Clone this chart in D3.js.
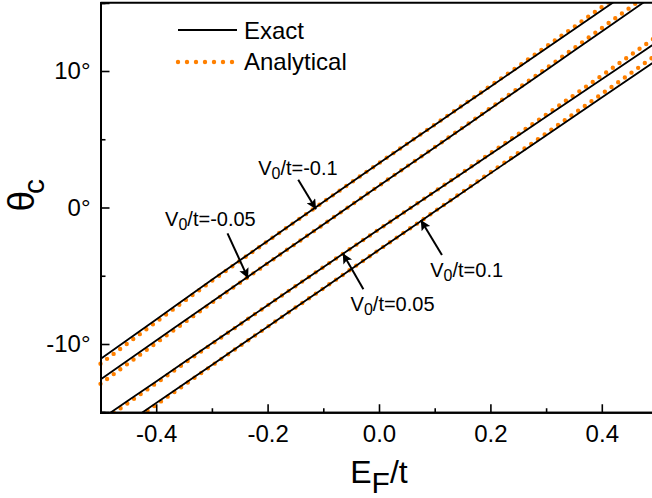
<!DOCTYPE html>
<html>
<head>
<meta charset="utf-8">
<script src="https://cdn.jsdelivr.net/npm/d3@7"></script>
<style>
  html, body { margin: 0; padding: 0; background: #fff; }
  svg { display: block; font-family: "Liberation Sans", Arial, sans-serif; }
</style>
</head>
<body>
<svg id="chart" width="652" height="498"></svg>
<script>
// ---- data ----
const energies = [-0.5, -0.4, -0.3, -0.2, -0.1, 0.0, 0.1, 0.2, 0.3, 0.4, 0.5];
const v0Labels = ["V0/t=-0.1", "V0/t=-0.05", "V0/t=0.05", "V0/t=0.1"];
// exact theta_c (degrees)
const exactM010 = [-11.1, -8.2, -5.3, -2.45, 0.4, 3.25, 6.05, 8.85, 11.65, 14.45, 17.25];
const exactM005 = [-12.6, -9.75, -6.9, -4.07, -1.25, 1.6, 4.4, 7.23, 10.06, 12.9, 15.73];
const exactP005 = [-15.53, -12.74, -9.95, -7.16, -4.37, -1.6, 1.15, 3.9, 6.65, 9.4, 12.15];
const exactP010 = [-17.1, -14.33, -11.53, -8.73, -5.93, -3.1, -0.3, 2.5, 5.28, 8.05, 10.83];
// analytical theta_c (degrees)
const analM010 = [-11.45, -8.38, -5.38, -2.47, 0.4, 3.25, 6.07, 8.91, 11.78, 14.68, 17.6];
const analM005 = [-12.92, -9.92, -6.98, -4.09, -1.25, 1.6, 4.42, 7.29, 10.19, 13.15, 16.1];
const analP005 = [-15.75, -12.87, -10.0, -7.17, -4.37, -1.6, 1.17, 3.97, 6.8, 9.67, 12.57];
const analP010 = [-17.3, -14.45, -11.58, -8.74, -5.93, -3.1, -0.28, 2.57, 5.43, 8.32, 11.25];
// ticks
const xMajorTicks = [-0.4, -0.2, 0.0, 0.2, 0.4];
const xMinorTicks = [-0.5, -0.3, -0.1, 0.1, 0.3, 0.5];
const yMajorTicks = [-10, 0, 10];
const yMinorTicks = [-15, -5, 5, 15];
// annotations: label anchor, arrow tail, arrow tip (E/t, degrees)
const annLabelE = [-0.217, -0.384, -0.051, 0.092];
const annLabelT = [2.38, -1.36, -7.58, -5.10];
const annTailE = [-0.145, -0.272, -0.028, 0.113];
const annTailT = [2.03, -1.89, -5.99, -3.48];
const annTipE = [-0.113, -0.235, -0.065, 0.075];
const annTipT = [-0.13, -5.19, -3.36, -0.92];

// ---- drawing ----
const svg = d3.select("#chart");
const x = d3.scaleLinear().domain([-0.5, 0.5]).range([100.5, 657.5]);
const y = d3.scaleLinear().domain([-15, 15]).range([412.25, 2.75]);

const ORANGE = "#ff8000";

svg.append("defs").append("clipPath").attr("id", "clip")
  .append("rect").attr("x", x(-0.5) - 4).attr("y", y(15))
  .attr("width", x(0.5) - x(-0.5) + 4).attr("height", y(-15) - y(15));

const line = d3.line().x((d, i) => x(energies[i])).y(d => y(d)).curve(d3.curveMonotoneX);

const plot = svg.append("g").attr("clip-path", "url(#clip)");
[analM010, analM005, analP005, analP010].forEach(s => {
  plot.append("path").attr("d", line(s)).attr("fill", "none")
    .attr("stroke", ORANGE).attr("stroke-width", 4.4)
    .attr("stroke-linecap", "round").attr("stroke-dasharray", "0 8.2");
});
[exactM010, exactM005, exactP005, exactP010].forEach(s => {
  plot.append("path").attr("d", line(s)).attr("fill", "none")
    .attr("stroke", "#000").attr("stroke-width", 1.8);
});

// axes
const fmtX = d => d.toFixed(1);
const fmtY = d => d + "\u00B0";

const gx = svg.append("g").attr("transform", `translate(0,${y(-15)})`);
gx.call(d3.axisBottom(x).tickValues(xMajorTicks).tickSize(-8).tickPadding(13).tickFormat(fmtX));
const gxm = svg.append("g").attr("transform", `translate(0,${y(-15)})`);
gxm.call(d3.axisBottom(x).tickValues(xMinorTicks).tickSize(-4).tickFormat(""));

const gy = svg.append("g").attr("transform", `translate(${x(-0.5)},0)`);
gy.call(d3.axisLeft(y).tickValues(yMajorTicks).tickSize(-9).tickPadding(10).tickFormat(fmtY));
const gym = svg.append("g").attr("transform", `translate(${x(-0.5)},0)`);
gym.call(d3.axisLeft(y).tickValues(yMinorTicks).tickSize(-5).tickFormat(""));

[gx, gxm, gy, gym].forEach(g => {
  g.select(".domain").attr("stroke", "#000").attr("stroke-width", 2);
  g.selectAll(".tick line").attr("stroke", "#000").attr("stroke-width", 1.6);
  g.selectAll(".tick text").attr("fill", "#000").attr("font-size", 24)
    .attr("font-family", '"Liberation Sans", Arial, sans-serif');
});
gx.selectAll(".tick text").attr("dy", "0.71em");

// top frame
svg.append("line").attr("x1", x(-0.5)).attr("x2", x(0.5))
  .attr("y1", y(15)).attr("y2", y(15)).attr("stroke", "#000").attr("stroke-width", 2);

// axis titles
const xt = svg.append("text").attr("x", x(0)).attr("y", 483)
  .attr("text-anchor", "middle").attr("font-size", 32).attr("fill", "#000");
xt.append("tspan").text("E");
xt.append("tspan").attr("font-size", 30).attr("dy", 10).text("F");
xt.append("tspan").attr("dy", -10).text("/t");

const yt = svg.append("text").attr("transform", `translate(34,${y(-0.3)}) rotate(-90)`)
  .attr("text-anchor", "start").attr("font-size", 37).attr("fill", "#000");
yt.append("tspan").text("\u03B8");
yt.append("tspan").attr("font-size", 30).attr("dx", -3).attr("dy", 10).text("c");

// legend
const lg = svg.append("g");
lg.append("line").attr("x1", 178).attr("x2", 237).attr("y1", 30).attr("y2", 30)
  .attr("stroke", "#000").attr("stroke-width", 1.8);
lg.append("text").attr("x", 244).attr("y", 39).attr("font-size", 24).text("Exact");
lg.append("line").attr("x1", 178).attr("x2", 233).attr("y1", 62).attr("y2", 62)
  .attr("stroke", ORANGE).attr("stroke-width", 4.4).attr("stroke-linecap", "round")
  .attr("stroke-dasharray", "0 9");
lg.append("text").attr("x", 244).attr("y", 70).attr("font-size", 24).text("Analytical");

// annotations
svg.select("defs").append("marker").attr("id", "arrow")
  .attr("viewBox", "0 0 10 10").attr("refX", 10).attr("refY", 5)
  .attr("markerWidth", 14).attr("markerHeight", 10).attr("markerUnits", "userSpaceOnUse")
  .attr("orient", "auto")
  .append("path").attr("d", "M0,0 L10,5 L0,10 L2,5 Z").attr("fill", "#000");

v0Labels.forEach((lab, i) => {
  svg.append("line")
    .attr("x1", x(annTailE[i])).attr("y1", y(annTailT[i]))
    .attr("x2", x(annTipE[i])).attr("y2", y(annTipT[i]))
    .attr("stroke", "#000").attr("stroke-width", 2).attr("marker-end", "url(#arrow)");
  const parts = lab.split("0/");
  const t = svg.append("text").attr("x", x(annLabelE[i])).attr("y", y(annLabelT[i]))
    .attr("font-size", 20).attr("fill", "#000");
  t.append("tspan").text(parts[0]);
  t.append("tspan").attr("font-size", 16).attr("dy", 4).text("0");
  t.append("tspan").attr("dy", -4).text("/" + parts[1]);
});
</script>
</body>
</html>
